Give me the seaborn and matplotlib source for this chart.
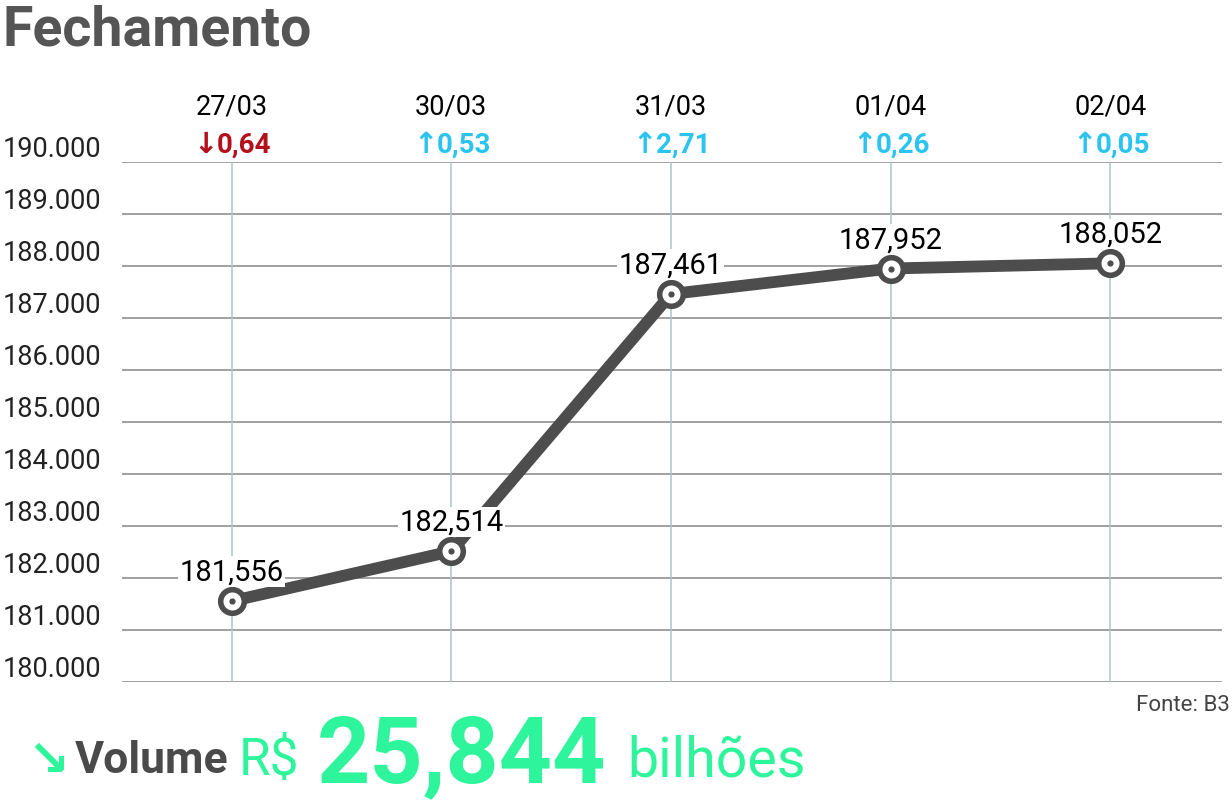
import pandas as pd
import numpy as np
import matplotlib.pyplot as plt
import seaborn as sns

# data
dates = ['27/03', '30/03', '31/03', '01/04', '02/04']
closes = [181556, 182514, 187461, 187952, 188052]
close_labels = ['181,556', '182,514', '187,461', '187,952', '188,052']
changes = ['0,64', '0,53', '2,71', '0,26', '0,05']
directions = ['down', 'up', 'up', 'up', 'up']
y_ticks = [180000, 181000, 182000, 183000, 184000, 185000, 186000, 187000, 188000, 189000, 190000]
y_tick_labels = ['180.000', '181.000', '182.000', '183.000', '184.000', '185.000',
                 '186.000', '187.000', '188.000', '189.000', '190.000']

df = pd.DataFrame({'pos': range(len(dates)), 'close': closes})

sns.set_style('white')
plt.rcParams['font.family'] = ['Roboto', 'DejaVu Sans']

line_col = '#4d4d4d'
green = '#2ef59b'
up_col = '#2bc4ee'
down_col = '#b3101c'

fig = plt.figure(figsize=(12.32, 8.03), dpi=100)
ax = fig.add_axes([0.099, 0.1494, 0.893, 0.6476])

# grid
for yv in y_ticks:
    ax.axhline(yv, color='#9a9a9a', lw=1.3, zorder=1)
for i in df['pos']:
    ax.axvline(i, color='#a9c6c4', lw=1.1, zorder=1)

sns.lineplot(data=df, x='pos', y='close', ax=ax, color=line_col, lw=8.5,
             marker='o', markersize=17, markerfacecolor='white',
             markeredgecolor=line_col, markeredgewidth=4, zorder=3)
ax.scatter(df['pos'], df['close'], s=12, color=line_col, zorder=5)

for i, lab in enumerate(close_labels):
    ax.annotate(lab, (i, closes[i]), xytext=(0, 11), textcoords='offset points',
                ha='center', va='bottom', fontsize=21, color='black', zorder=6,
                bbox=dict(boxstyle='square,pad=0.05', fc='white', ec='none'))

ax.set_xlim(-0.5, 4.51)
ax.set_ylim(180000, 190000)
ax.set_yticks(y_ticks)
ax.set_yticklabels(y_tick_labels, fontsize=19.5, color='#222222')
for t in ax.get_yticklabels():
    t.set_verticalalignment('bottom')
ax.tick_params(axis='y', length=0, pad=15)
ax.set_xticks([])
ax.set_xlabel('')
ax.set_ylabel('')
sns.despine(ax=ax, left=True, bottom=True)

# date headers and daily change
xt = ax.get_xaxis_transform()
for i, d in enumerate(dates):
    ax.text(i, 1.108, d, transform=xt, ha='center', va='center',
            fontsize=19.5, color='black')
    arrow = '\u2193' if directions[i] == 'down' else '\u2191'
    col = down_col if directions[i] == 'down' else up_col
    ax.annotate(arrow, (i, 1.035), xycoords=xt, xytext=(-10, 0), textcoords='offset points',
                ha='right', va='center', fontsize=21, fontweight='bold', color=col,
                family='DejaVu Sans')
    ax.annotate(changes[i], (i, 1.035), xycoords=xt, xytext=(-10.5, 0), textcoords='offset points',
                ha='left', va='center', fontsize=20, fontweight='bold', color=col,
                family='Roboto')

fig.text(0.002, 0.962, 'Fechamento', fontsize=40, fontweight='bold', color='#555555',
         family='Roboto', va='center', ha='left')

fig.text(0.998, 0.121, 'Fonte: B3', fontsize=16, color='#444444', family='Roboto',
         ha='right', va='center')

# volume footer
fig.text(0.022, 0.052, '\u2198', fontsize=36, fontweight='bold', color=green,
         family='DejaVu Sans', va='center')
fig.text(0.061, 0.052, 'Volume', fontsize=32, fontweight='bold', color='#4a4a4a',
         family='Roboto', va='center')
fig.text(0.194, 0.052, 'R$', fontsize=37, color=green, family='Roboto', va='center')
fig.text(0.257, 0.058, '25,844', fontsize=67, fontweight='bold', color=green,
         family='Roboto', va='center')
fig.text(0.509, 0.052, 'bilhões', fontsize=40, color=green, family='Roboto', va='center')

fig.savefig('out.png', dpi=100)
